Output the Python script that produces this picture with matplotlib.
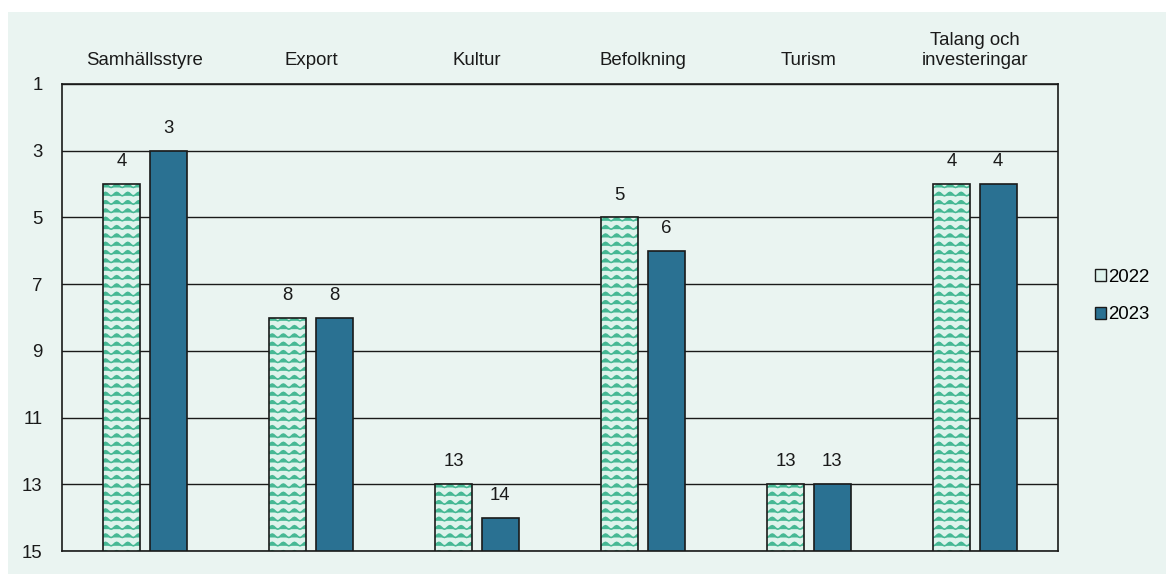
import warnings
import numpy as np
import matplotlib
matplotlib.use("Agg")
import matplotlib.pyplot as plt
from matplotlib import hatch as mhatch
from matplotlib.path import Path
from matplotlib.patches import Patch, Rectangle

categories = ["Samhällsstyre", "Export", "Kultur", "Befolkning", "Turism",
              "Talang och\ninvesteringar"]
rank_2022 = [4, 8, 13, 5, 13, 4]
rank_2023 = [3, 8, 14, 6, 13, 4]
series_labels = ["2022", "2023"]
y_ticks = [1, 3, 5, 7, 9, 11, 13, 15]

BG = "#eaf4f1"
LIGHT = "#def3ec"
WAVE = "#46b894"
DARK = "#2a7192"
INK = "#1a1a1a"


class WaveHatch(mhatch.HatchPatternBase):
    """Rows of small sine waves, selected with the '~' hatch character."""
    waves = 9
    pts = 8

    def __init__(self, hatch, density):
        self.num_rows = int(hatch.count("~") * density)
        self.num_vertices = self.num_rows * (self.waves * self.pts + 1) if self.num_rows else 0

    def set_vertices_and_codes(self, vertices, codes):
        n = self.waves * self.pts + 1
        xs = np.linspace(0.0, 1.0, n)
        shape = 0.5 - 0.5 * np.cos(2 * np.pi * self.waves * xs)
        amp = 0.42 / self.num_rows
        rows = (np.arange(self.num_rows) + 0.5) / self.num_rows
        for i, y0 in enumerate(rows):
            seg = slice(i * n, (i + 1) * n)
            vertices[seg, 0] = xs
            vertices[seg, 1] = y0 + amp * shape
            codes[seg] = Path.LINETO
            codes[i * n] = Path.MOVETO


mhatch._hatch_types.append(WaveHatch)
plt.rcParams["hatch.linewidth"] = 1.15
plt.rcParams["font.family"] = ["Liberation Sans", "DejaVu Sans"]
FS = 13.4

fig = plt.figure(figsize=(11.66, 5.74), dpi=100, facecolor="white")
fig.patches.append(Rectangle((8 / 1166, 0), 1, 1 - 12 / 574, transform=fig.transFigure,
                             facecolor=BG, edgecolor="none", zorder=-1))
ax = fig.add_axes([62 / 1166, 23 / 574, 996 / 1166, 467 / 574])
ax.set_facecolor(BG)

x = np.arange(len(categories))
off, w = 0.14, 0.222
base = 15

# hatched fill first, outline drawn on top so the edge stays dark
with warnings.catch_warnings():
    warnings.simplefilter("ignore")
    ax.bar(x - off, np.array(rank_2022) - base, bottom=base, width=w,
           color=LIGHT, edgecolor=WAVE, linewidth=0, hatch="~~", zorder=3)
ax.bar(x - off, np.array(rank_2022) - base, bottom=base, width=w,
       fill=False, edgecolor=INK, linewidth=1.2, zorder=4)
ax.bar(x + off, np.array(rank_2023) - base, bottom=base, width=w,
       color=DARK, edgecolor=INK, linewidth=1.2, zorder=4)

for xs, vals in ((x - off, rank_2022), (x + off, rank_2023)):
    for xi, v in zip(xs, vals):
        ax.annotate(str(v), (xi, v), xytext=(0, 10), textcoords="offset points",
                    ha="center", va="bottom", fontsize=FS, color=INK)

ax.set_xlim(-0.5, len(categories) - 0.5)
ax.set_ylim(15, 1)
ax.set_yticks(y_ticks)
ax.set_yticklabels([str(t) for t in y_ticks])
ax.set_xticks(x)
ax.set_xticklabels(categories, linespacing=1.25)
ax.tick_params(axis="x", top=False, bottom=False, labeltop=True, labelbottom=False,
               labelsize=FS, labelcolor=INK, pad=7)
ax.tick_params(axis="y", length=0, labelsize=FS, labelcolor=INK, pad=14)
ax.grid(axis="y", color=INK, linewidth=1.0, zorder=1)
ax.set_axisbelow(True)
for s in ax.spines.values():
    s.set_color(INK)
    s.set_linewidth(1.2)

handles = [Patch(facecolor=LIGHT, edgecolor=INK, linewidth=1.0),
           Patch(facecolor=DARK, edgecolor=INK, linewidth=1.0)]
ax.legend(handles, series_labels, loc="center left", bbox_to_anchor=(1.03, 0.546),
          frameon=False, fontsize=FS, handlelength=0.6, handleheight=0.6,
          handletextpad=0.1, labelspacing=1.1, borderaxespad=0)

fig.savefig("out.png", dpi=100, facecolor=fig.get_facecolor())
